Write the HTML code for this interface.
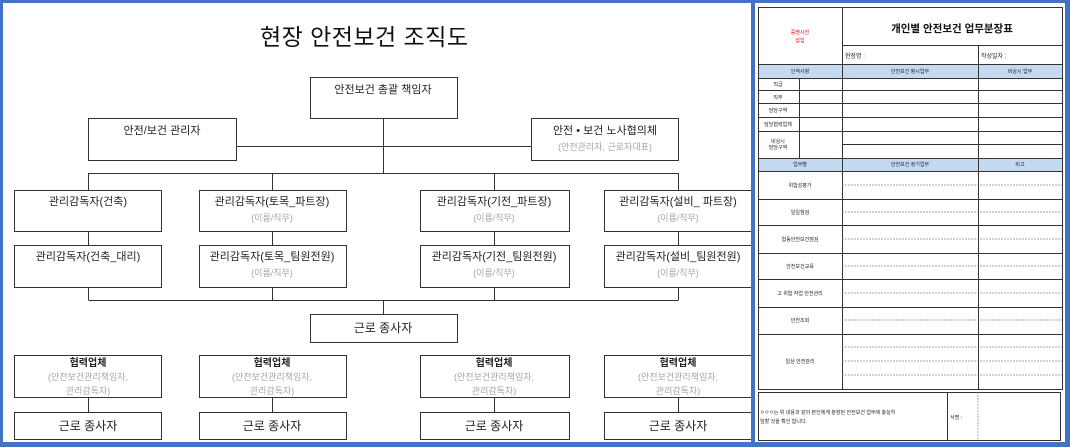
<!DOCTYPE html>
<html><head><meta charset="utf-8"><style>
html,body{margin:0;padding:0;background:#fff}
svg{display:block}
text{font-family:"Liberation Sans","Noto Sans CJK KR","NanumGothic",sans-serif}
</style></head><body>
<svg width="1070" height="447" viewBox="0 0 1070 447" xmlns="http://www.w3.org/2000/svg">
<rect x="0" y="0" width="1070" height="447" fill="#fff"/>
<!-- Left chart -->
<text x="260" y="45" font-size="23" textLength="208" fill="#111">현장 안전보건 조직도</text>
<g stroke="#333" stroke-width="1" fill="none">
<line x1="383.5" y1="118" x2="383.5" y2="173"/>
<line x1="236" y1="146.5" x2="531" y2="146.5"/>
<line x1="88.5" y1="173.5" x2="678.5" y2="173.5"/>
<line x1="88.5" y1="173" x2="88.5" y2="190"/><line x1="272.5" y1="173" x2="272.5" y2="190"/>
<line x1="494.5" y1="173" x2="494.5" y2="190"/><line x1="678.5" y1="173" x2="678.5" y2="190"/>
<line x1="88.5" y1="231" x2="88.5" y2="245"/><line x1="272.5" y1="231" x2="272.5" y2="245"/>
<line x1="494.5" y1="231" x2="494.5" y2="245"/><line x1="678.5" y1="231" x2="678.5" y2="245"/>
<line x1="88.5" y1="287" x2="88.5" y2="300"/><line x1="272.5" y1="287" x2="272.5" y2="300"/>
<line x1="494.5" y1="287" x2="494.5" y2="300"/><line x1="678.5" y1="287" x2="678.5" y2="300"/>
<line x1="88.5" y1="300.5" x2="678.5" y2="300.5"/>
<line x1="383.5" y1="300" x2="383.5" y2="314"/>
<line x1="88.5" y1="397" x2="88.5" y2="412"/><line x1="272.5" y1="397" x2="272.5" y2="412"/>
<line x1="494.5" y1="397" x2="494.5" y2="412"/><line x1="678.5" y1="397" x2="678.5" y2="412"/>
<rect x="310.5" y="77.5" width="147" height="41" fill="#fff"/>
<rect x="88.5" y="118.5" width="148" height="42" fill="#fff"/>
<rect x="531.5" y="118.5" width="147" height="42" fill="#fff"/>
<rect x="310.5" y="314.5" width="147" height="28" fill="#fff"/>
<rect x="14.5" y="190.5" width="147" height="41" fill="#fff"/><rect x="199.5" y="190.5" width="147" height="41" fill="#fff"/>
<rect x="420.5" y="190.5" width="149" height="41" fill="#fff"/><rect x="604.5" y="190.5" width="160" height="41" fill="#fff"/>
<rect x="14.5" y="245.5" width="147" height="42" fill="#fff"/><rect x="199.5" y="245.5" width="147" height="42" fill="#fff"/>
<rect x="420.5" y="245.5" width="149" height="42" fill="#fff"/><rect x="604.5" y="245.5" width="160" height="42" fill="#fff"/>
<rect x="14.5" y="355.5" width="147" height="42" fill="#fff"/><rect x="199.5" y="355.5" width="147" height="42" fill="#fff"/>
<rect x="420.5" y="355.5" width="149" height="42" fill="#fff"/><rect x="604.5" y="355.5" width="160" height="42" fill="#fff"/>
<rect x="14.5" y="412.5" width="147" height="27" fill="#fff"/><rect x="199.5" y="412.5" width="147" height="27" fill="#fff"/>
<rect x="420.5" y="412.5" width="149" height="27" fill="#fff"/><rect x="604.5" y="412.5" width="160" height="27" fill="#fff"/>
</g>
<g font-size="11" fill="#222" text-anchor="middle">
<text x="383" y="93">안전보건 총괄 책임자</text>
<text x="162" y="134">안전/보건 관리자</text>
<text x="605" y="134">안전 • 보건 노사협의체</text>
<text x="383" y="332" font-size="12">근로 종사자</text>
<text x="88" y="205">관리감독자(건축)</text>
<text x="272" y="205">관리감독자(토목_파트장)</text>
<text x="494" y="205">관리감독자(기전_파트장)</text>
<text x="678" y="205">관리감독자(설비_    파트장)</text>
<text x="88" y="260">관리감독자(건축_대리)</text>
<text x="272" y="260">관리감독자(토목_팀원전원)</text>
<text x="494" y="260">관리감독자(기전_팀원전원)</text>
<text x="678" y="260">관리감독자(설비_팀원전원)</text>
<g font-size="10" font-weight="bold">
<text x="88" y="366">협력업체</text><text x="272" y="366">협력업체</text>
<text x="494" y="366">협력업체</text><text x="678" y="366">협력업체</text>
</g>
<g font-size="12">
<text x="88" y="430">근로 종사자</text><text x="272" y="430">근로 종사자</text>
<text x="494" y="430">근로 종사자</text><text x="678" y="430">근로 종사자</text>
</g>
</g>
<g font-size="9" fill="#a6a6a6" text-anchor="middle">
<text x="605" y="150">(안전관리자, 근로자대표)</text>
<text x="272" y="221">(이름/직무)</text><text x="494" y="221">(이름/직무)</text><text x="678" y="221">(이름/직무)</text>
<text x="272" y="276">(이름/직무)</text><text x="494" y="276">(이름/직무)</text><text x="678" y="276">(이름/직무)</text>
<text x="88" y="380">(안전보건관리책임자,</text><text x="272" y="380">(안전보건관리책임자,</text>
<text x="494" y="380">(안전보건관리책임자,</text><text x="678" y="380">(안전보건관리책임자,</text>
<text x="88" y="394">관리감독자)</text><text x="272" y="394">관리감독자)</text>
<text x="494" y="394">관리감독자)</text><text x="678" y="394">관리감독자)</text>
</g>
<!-- Right form -->
<rect x="755" y="3" width="310" height="439" fill="#fff"/>
<rect x="758" y="64" width="304" height="14" fill="#c5d9f1"/>
<rect x="758" y="158" width="304" height="13" fill="#c5d9f1"/>
<g stroke="#333" stroke-width="1" fill="none">
<rect x="758.5" y="7.5" width="304" height="382"/>
<line x1="842.5" y1="7" x2="842.5" y2="389"/>
<line x1="842" y1="45.5" x2="1062" y2="45.5"/>
<line x1="978.5" y1="45" x2="978.5" y2="64"/>
<line x1="978.5" y1="64" x2="978.5" y2="389"/>
<line x1="758" y1="64.5" x2="1062" y2="64.5"/>
<line x1="758" y1="78.5" x2="1062" y2="78.5"/>
<line x1="758" y1="90.5" x2="1062" y2="90.5"/>
<line x1="758" y1="103.5" x2="1062" y2="103.5"/>
<line x1="758" y1="117.5" x2="1062" y2="117.5"/>
<line x1="758" y1="131.5" x2="1062" y2="131.5"/>
<line x1="842" y1="144.5" x2="1062" y2="144.5"/>
<line x1="758" y1="158.5" x2="1062" y2="158.5"/>
<line x1="758" y1="171.5" x2="1062" y2="171.5"/>
<line x1="799.5" y1="78" x2="799.5" y2="158"/>
<line x1="758" y1="199.5" x2="1062" y2="199.5"/>
<line x1="758" y1="225.5" x2="1062" y2="225.5"/>
<line x1="758" y1="253.5" x2="1062" y2="253.5"/>
<line x1="758" y1="279.5" x2="1062" y2="279.5"/>
<line x1="758" y1="307.5" x2="1062" y2="307.5"/>
<line x1="758" y1="334.5" x2="1062" y2="334.5"/>
<rect x="758.5" y="392.5" width="302" height="48"/>
<line x1="947.5" y1="392" x2="947.5" y2="440"/>
</g>
<g stroke="#888" stroke-width="0.7" stroke-dasharray="2,1" fill="none">
<line x1="842" y1="185" x2="1062" y2="185"/>
<line x1="842" y1="212" x2="1062" y2="212"/>
<line x1="842" y1="239" x2="1062" y2="239"/>
<line x1="842" y1="266" x2="1062" y2="266"/>
<line x1="842" y1="293" x2="1062" y2="293"/>
<line x1="842" y1="320" x2="1062" y2="320"/>
<line x1="842" y1="347" x2="1062" y2="347"/>
<line x1="842" y1="361" x2="1062" y2="361"/>
<line x1="842" y1="375" x2="1062" y2="375"/>
<line x1="978" y1="392" x2="978" y2="440"/>
</g>
<text x="952" y="32" font-size="10.5" font-weight="bold" fill="#111" text-anchor="middle">개인별 안전보건 업무분장표</text>
<g font-size="5" fill="#e00" text-anchor="middle">
<text x="800" y="34">증명사진</text><text x="800" y="42">삽입</text>
</g>
<g font-size="6" fill="#222">
<text x="845" y="58">현장명 :</text>
<text x="981" y="58">작성일자 :</text>
</g>
<g font-size="5" fill="#222" text-anchor="middle">
<text x="800" y="73">인적사항</text><text x="910" y="73">안전보건 평시업무</text><text x="1020" y="73">비상시 업무</text>
<text x="778" y="86">직급</text><text x="778" y="99">직무</text><text x="778" y="112">담당구역</text>
<text x="778" y="126">담당협력업체</text><text x="778" y="143">비상시</text><text x="778" y="149">담당구역</text>
<text x="800" y="166">업무별</text><text x="910" y="166">안전보건 정기업무</text><text x="1020" y="166">비고</text>
<text x="800" y="187">위험성평가</text><text x="800" y="214">일일점검</text>
<text x="800" y="241">합동안전보건점검</text><text x="800" y="268">안전보건교육</text>
<text x="800" y="295">고 위험 작업 안전관리</text><text x="800" y="322">안전조회</text>
<text x="800" y="363">일상 안전관리</text>
</g>
<g font-size="5" fill="#222">
<text x="760" y="414">ㅇㅇㅇ는 위 내용과 같이 본인에게 분장된 안전보건 업무에 충실히</text>
<text x="760" y="423">임할 것을 확인 합니다.</text>
<text x="950" y="419">서명 :</text>
</g>
<!-- Blue frames -->
<g fill="#4472c4">
<rect x="0" y="0" width="1070" height="3"/>
<rect x="0" y="442" width="1070" height="5"/>
<rect x="0" y="0" width="3" height="447"/>
<rect x="751" y="0" width="4" height="447"/>
<rect x="1065" y="0" width="5" height="447"/>
</g>
</svg>
</body></html>
